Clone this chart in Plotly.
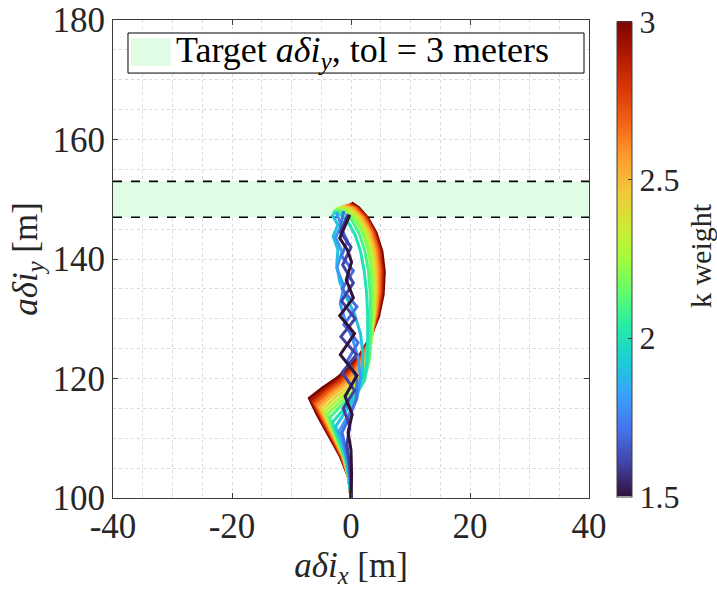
import plotly.graph_objects as go
from plotly.colors import sample_colorscale

# ---------------- data ----------------
X_RANGE = [-40, 40]
Y_RANGE = [100, 180]
TARGET_Y = 150
TOL = 3
K_MIN, K_MAX = 1.5, 3.0

K_VALUES = [3.0, 2.9, 2.8, 2.7, 2.6, 2.5, 2.4, 2.3, 2.2, 2.1, 2.0, 1.9, 1.8, 1.7, 1.6, 1.5]

x_k30 = [0, -0.4, -1.8, -3.8, -5.6, -7.0, -4.8, -2.6, -0.6, 1.4, 3.2, 4.6, 5.4, 5.6, 5.2, 4.2, 2.8, 1.3, 0.1]
y_k30 = [100, 103.5, 107, 110.5, 113.8, 116.7, 118.4, 119.9, 121.5, 123.8, 126.8, 130.3, 134, 137.8, 141.3, 144.4, 146.9, 148.6, 149.4]
x_k29 = [0, -0.4, -1.7, -3.6, -5.3, -6.6, -4.5, -2.3, -0.3, 1.6, 3.3, 4.5, 5.2, 5.3, 4.9, 4.0, 2.6, 1.1, -0.1]
y_k29 = [100, 103.5, 107, 110.5, 113.7, 116.4, 118.1, 119.7, 121.4, 123.8, 126.9, 130.5, 134.2, 138, 141.5, 144.5, 147, 148.6, 149.3]
x_k28 = [0, -0.4, -1.6, -3.4, -5.0, -6.3, -4.2, -2.0, 0.0, 1.8, 3.4, 4.4, 5.0, 5.1, 4.7, 3.8, 2.5, 1.0, -0.3]
y_k28 = [100, 103.5, 107, 110.4, 113.5, 116.1, 117.9, 119.5, 121.3, 123.8, 127, 130.6, 134.3, 138, 141.5, 144.5, 146.9, 148.5, 149.2]
x_k27 = [0, -0.4, -1.5, -3.2, -4.8, -6.0, -3.9, -1.7, 0.3, 2.0, 3.4, 4.3, 4.8, 4.9, 4.5, 3.6, 2.3, 0.8, -0.6]
y_k27 = [100, 103.5, 107, 110.3, 113.3, 115.8, 117.7, 119.3, 121.2, 123.8, 127.1, 130.8, 134.4, 138.1, 141.6, 144.6, 146.9, 148.5, 149.1]
x_k26 = [0, -0.4, -1.4, -3.0, -4.5, -5.6, -3.5, -1.3, 0.6, 2.2, 3.4, 4.2, 4.6, 4.6, 4.2, 3.3, 2.0, 0.5, -1.0]
y_k26 = [100, 103.5, 107, 110.2, 113.1, 115.5, 117.5, 119.1, 121.1, 123.8, 127.2, 130.9, 134.5, 138.2, 141.6, 144.6, 146.9, 148.5, 149.0]
x_k25 = [0, -0.4, -1.3, -2.8, -4.2, -5.2, -3.1, -0.9, 1.0, 2.5, 3.4, 4.0, 4.3, 4.3, 3.9, 3.0, 1.7, 0.2, -1.4]
y_k25 = [100, 103.5, 107, 110.1, 112.9, 115.2, 117.2, 118.9, 120.9, 123.8, 127.3, 131, 134.6, 138.2, 141.6, 144.6, 146.9, 148.4, 148.9]
x_k24 = [0, -0.4, -1.2, -2.6, -3.9, -4.8, -2.7, -0.4, 1.5, 2.8, 3.5, 3.9, 4.1, 4.0, 3.6, 2.7, 1.4, -0.1, -1.8]
y_k24 = [100, 103.4, 106.8, 109.9, 112.6, 114.8, 116.8, 118.6, 120.6, 123.6, 127.3, 131, 134.6, 138.2, 141.6, 144.5, 146.8, 148.3, 148.8]
x_k23 = [0, -0.3, -1.1, -2.4, -3.6, -4.4, -2.3, 0.0, 1.9, 3.0, 3.5, 3.8, 3.9, 3.7, 3.3, 2.4, 1.1, -0.5, -2.2]
y_k23 = [100, 103.4, 106.8, 109.8, 112.4, 114.4, 116.4, 118.3, 120.3, 123.4, 127.2, 131, 134.6, 138.2, 141.5, 144.4, 146.7, 148.2, 148.6]
x_k22 = [0, -0.3, -1.0, -2.2, -3.3, -4.0, -1.9, 0.4, 2.2, 3.1, 3.4, 3.6, 3.6, 3.4, 2.9, 2.0, 0.7, -0.9, -2.6]
y_k22 = [100, 103.3, 106.6, 109.6, 112.1, 114.0, 116.0, 117.9, 120.0, 123.2, 127.1, 130.9, 134.6, 138.2, 141.5, 144.3, 146.6, 148.0, 148.4]
x_k21 = [0, -0.3, -0.9, -2.0, -3.0, -3.6, -1.6, 0.6, 2.3, 3.0, 3.2, 3.3, 3.2, 2.9, 2.3, 1.4, 0.2, -1.3, -2.9]
y_k21 = [100, 103.2, 106.4, 109.3, 111.7, 113.4, 115.5, 117.5, 119.8, 123.1, 127, 130.9, 134.6, 138.2, 141.4, 144.2, 146.4, 147.8, 148.1]
x_k20 = [0, -0.3, -0.8, -1.7, -2.6, -3.1, -1.2, 0.8, 2.2, 2.7, 2.8, 2.8, 2.6, 2.2, 1.6, 0.7, -0.5, -1.8, -3.1]
y_k20 = [100, 103, 106, 108.9, 111.2, 112.7, 114.9, 117.1, 119.6, 123, 126.9, 130.8, 134.5, 138.1, 141.3, 144, 146.2, 147.5, 147.8]
x_k19 = [0, -0.2, -0.7, -1.5, -2.6, -0.9, 0.9, 1.9, 2.0, 1.6, 0.6, -0.8, -1.9, -2.4, -2.2, -3.0, -2.2, -3.2]
y_k19 = [100, 103, 106.5, 109.5, 111.9, 114.5, 117.3, 120.5, 124, 127.5, 130.8, 133.6, 136.2, 139, 141.6, 143.8, 145.7, 147.5]
x_k18 = [0, -0.2, -0.6, -1.3, -2.0, -0.5, 1.0, 1.6, 1.2, 0.2, -1.0, -1.8, -1.2, -2.4, -1.5, -2.6, -1.6, -2.5]
y_k18 = [100, 103, 106.3, 109.0, 111.2, 113.8, 116.7, 120, 123.5, 126.8, 129.8, 132.5, 135.5, 138.5, 141.2, 143.6, 145.6, 147.8]
x_k17 = [0, -0.1, -0.4, -1.0, -1.5, -0.3, 0.9, 1.0, -0.6, 1.2, -1.2, 1.0, -1.5, 0.4, -1.6, -0.6, -1.8, -1.2]
y_k17 = [100, 103, 106, 109, 111, 113.5, 116.5, 120, 123, 126, 129, 132, 135, 138, 140.5, 143, 145.5, 148]
x_k16 = [0, 0, -0.3, -0.7, -0.2, -1.3, 0.6, -1.5, 0.9, -1.7, 0.7, -1.6, 0.4, -1.4, 0.0, -1.8, -0.5]
y_k16 = [100, 103, 106, 109, 112, 115, 118, 121, 124, 127, 130, 133, 136, 139, 142, 144.5, 147.5]
x_k15 = [0, 0.1, 0, -0.5, 0.2, -1.0, 1.0, -1.8, 0.6, -1.9, 0.4, -0.8, 0.1, -0.6, -1.9, -0.2]
y_k15 = [100, 104, 108, 111, 114, 117, 120.5, 124, 127.5, 130.5, 133.5, 136.5, 139.5, 141.5, 143.5, 147.4]

TRAJ_X = [x_k30, x_k29, x_k28, x_k27, x_k26, x_k25, x_k24, x_k23,
          x_k22, x_k21, x_k20, x_k19, x_k18, x_k17, x_k16, x_k15]
TRAJ_Y = [y_k30, y_k29, y_k28, y_k27, y_k26, y_k25, y_k24, y_k23,
          y_k22, y_k21, y_k20, y_k19, y_k18, y_k17, y_k16, y_k15]

X_TICKS = [-40, -20, 0, 20, 40]
X_TICKTEXT = ["-40", "-20", "0", "20", "40"]
Y_TICKS = [100, 120, 140, 160, 180]
CB_TICKS = [1.5, 2, 2.5, 3]
CB_TICKTEXT = ["1.5", "2", "2.5", "3"]
LEGEND_TEXT = "Target <i>aδi</i><sub><i>y</i></sub>, tol = 3 meters"
CB_TITLE = "k weight"

# ---------------- style ----------------
FONT = "Liberation Serif"
TXT = "rgb(38,38,38)"
AX = "rgb(60,60,60)"
BAND_COLOR = "rgb(224,252,228)"
GRID = "rgb(218,218,218)"

fig = go.Figure()

# target band
lo, hi = TARGET_Y - TOL, TARGET_Y + TOL
fig.add_trace(go.Scatter(
    x=[X_RANGE[0], X_RANGE[1], X_RANGE[1], X_RANGE[0], X_RANGE[0]],
    y=[lo, lo, hi, hi, lo],
    fill="toself", fillcolor=BAND_COLOR, mode="none",
    showlegend=False, hoverinfo="skip"))

for yy in (lo, hi):
    fig.add_trace(go.Scatter(x=X_RANGE, y=[yy, yy], mode="lines",
                             line=dict(color="black", width=1.6, dash="dash"),
                             showlegend=False, hoverinfo="skip"))

for k, xs, ys in zip(K_VALUES, TRAJ_X, TRAJ_Y):
    c = sample_colorscale("Turbo", [(k - K_MIN) / (K_MAX - K_MIN)])[0]
    fig.add_trace(go.Scatter(x=xs, y=ys, mode="lines",
                             line=dict(color=c, width=3),
                             showlegend=False, hoverinfo="skip"))

# colorbar holder
fig.add_trace(go.Scatter(
    x=[None], y=[None], mode="markers", showlegend=False,
    marker=dict(color=[K_MIN, K_MAX], cmin=K_MIN, cmax=K_MAX,
                colorscale="Turbo", showscale=True,
                colorbar=dict(
                    x=1.058, xanchor="left", xref="paper", xpad=0, ypad=0,
                    y=0.5, yanchor="middle", len=0.994, lenmode="fraction",
                    thickness=15, outlinewidth=1, outlinecolor=AX,
                    tickvals=CB_TICKS, ticktext=CB_TICKTEXT,
                    ticks="inside", ticklen=4, tickcolor=AX,
                    tickfont=dict(family=FONT, size=32, color=TXT)))))

# colorbar title (rotated text at right edge)
fig.add_annotation(text=CB_TITLE, xref="paper", yref="paper",
                   x=1.233, y=0.508, xanchor="center", yanchor="middle",
                   textangle=-90, showarrow=False,
                   font=dict(family=FONT, size=30, color=TXT))

# manual legend box (paper coords)
fig.add_shape(type="rect", xref="paper", yref="paper",
              x0=0.0315, x1=0.9895, y0=0.889, y1=0.9728,
              fillcolor="white", line=dict(color="black", width=1), layer="above")
fig.add_shape(type="rect", xref="paper", yref="paper",
              x0=0.0375, x1=0.121, y0=0.904, y1=0.962,
              fillcolor=BAND_COLOR, line=dict(width=0), layer="above")
fig.add_annotation(text=LEGEND_TEXT, xref="paper", yref="paper",
                   x=0.128, y=0.931, xanchor="left", yanchor="middle",
                   showarrow=False,
                   font=dict(family=FONT, size=36, color="black"))

axis_common = dict(
    showline=True, linecolor=AX, linewidth=1, mirror="ticks",
    ticks="inside", ticklen=5, tickcolor=AX,
    showgrid=True, gridcolor=GRID, griddash="dot", gridwidth=1,
    zeroline=False,
    tickfont=dict(family=FONT, size=35, color=TXT),
    minor=dict(dtick=5, showgrid=True, gridcolor=GRID,
               griddash="dot", gridwidth=1, ticks=""),
)

fig.update_xaxes(range=X_RANGE, tickvals=X_TICKS, ticktext=X_TICKTEXT,
                 ticklabelstandoff=-3,
                 title=dict(text="<i>aδi</i><sub><i>x</i></sub> [m]",
                            font=dict(family=FONT, size=35, color=TXT), standoff=6),
                 **axis_common)
fig.update_yaxes(range=Y_RANGE, tickvals=Y_TICKS,
                 title=dict(text="<i>aδi</i><sub><i>y</i></sub> [m]",
                            font=dict(family=FONT, size=35, color=TXT), standoff=4),
                 **axis_common)

fig.update_layout(
    width=717, height=590,
    margin=dict(l=113, r=128, t=20, b=92, autoexpand=False),
    paper_bgcolor="white", plot_bgcolor="white",
    showlegend=False,
)

fig.write_html("out.html")
